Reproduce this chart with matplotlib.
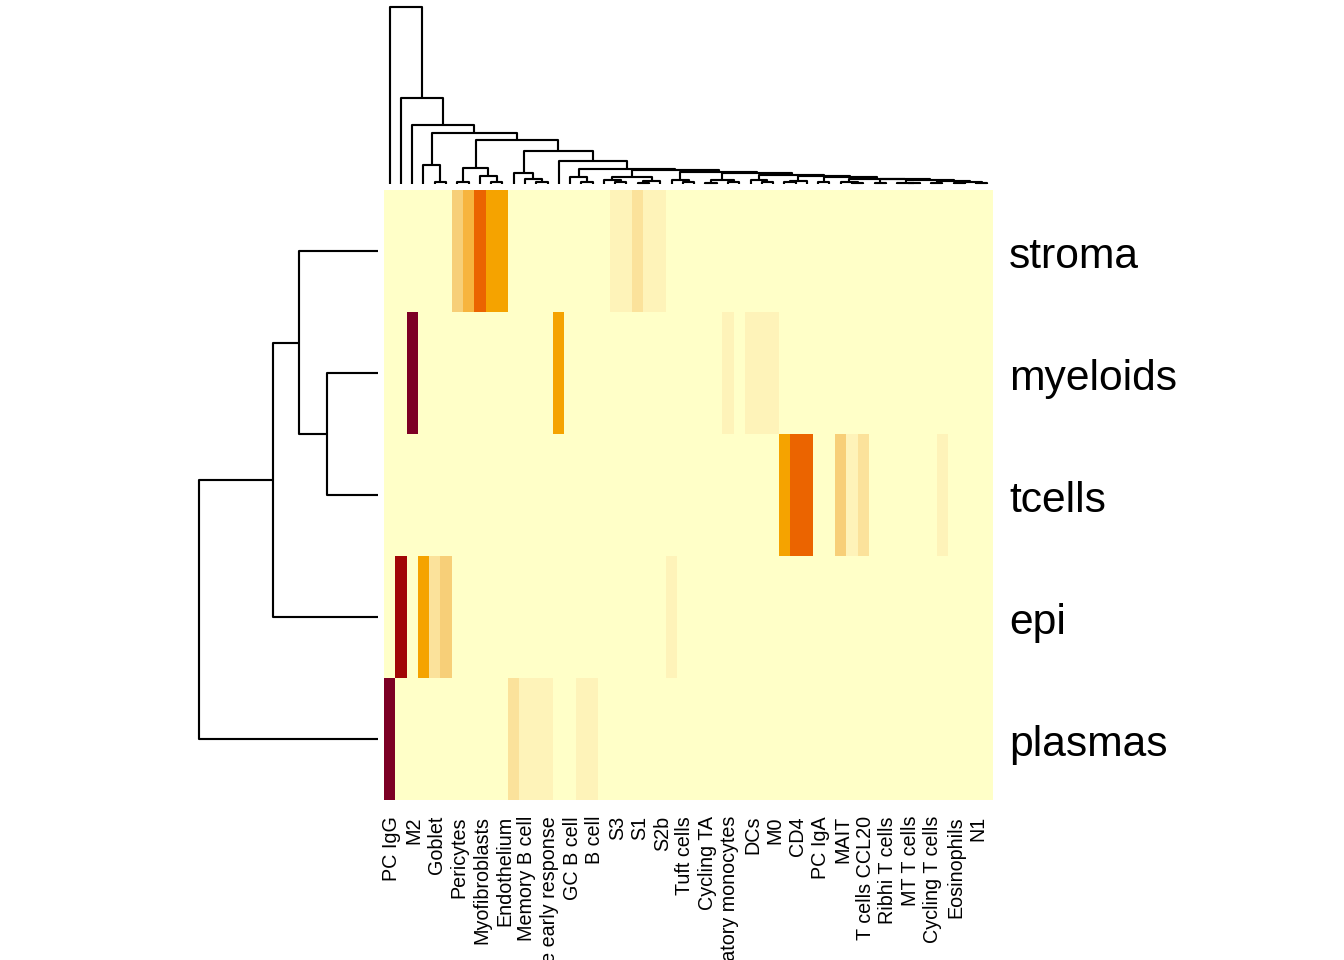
import matplotlib
matplotlib.use("Agg")
import matplotlib.pyplot as plt
import matplotlib.transforms as mtrans
from matplotlib.colors import ListedColormap, BoundaryNorm
import numpy as np

# ---------------- data ----------------
row_labels = ["stroma", "myeloids", "tcells", "epi", "plasmas"]

# 54 columns; only every other column label is printed (as in the reference)
col_labels_shown = [
    "PC IgG", "M2", "Goblet", "Pericytes", "Myofibroblasts", "Endothelium",
    "Memory B cell", "Macrophage early response", "GC B cell", "B cell",
    "S3", "S1", "S2b", "Tuft cells", "Cycling TA", "Inflammatory monocytes",
    "DCs", "M0", "CD4", "PC IgA", "MAIT", "T cells CCL20", "Ribhi T cells",
    "MT T cells", "Cycling T cells", "Eosinophils", "N1",
]

stroma = [0, 0, 0, 0, 0, 0, .29, .46, .71, .54,
          .54, 0, 0, 0, 0, 0, 0, 0, 0, 0,
          .12, .12, .20, .12, .12, 0, 0, 0, 0, 0,
          0, 0, 0, 0, 0, 0, 0, 0, 0, 0,
          0, 0, 0, 0, 0, 0, 0, 0, 0, 0,
          0, 0, 0, 0]
myeloids = [0, 0, .96, 0, 0, 0, 0, 0, 0, 0,
            0, 0, 0, 0, 0, .54, 0, 0, 0, 0,
            0, 0, 0, 0, 0, 0, 0, 0, 0, 0,
            .12, 0, .12, .12, .12, 0, 0, 0, 0, 0,
            0, 0, 0, 0, 0, 0, 0, 0, 0, 0,
            0, 0, 0, 0]
tcells = [0, 0, 0, 0, 0, 0, 0, 0, 0, 0,
          0, 0, 0, 0, 0, 0, 0, 0, 0, 0,
          0, 0, 0, 0, 0, 0, 0, 0, 0, 0,
          0, 0, 0, 0, 0, .54, .71, .71, 0, 0,
          .29, .12, .20, 0, 0, 0, 0, 0, 0, .12,
          0, 0, 0, 0]
epi = [0, .87, 0, .54, .20, .29, 0, 0, 0, 0,
       0, 0, 0, 0, 0, 0, 0, 0, 0, 0,
       0, 0, 0, 0, 0, .12, 0, 0, 0, 0,
       0, 0, 0, 0, 0, 0, 0, 0, 0, 0,
       0, 0, 0, 0, 0, 0, 0, 0, 0, 0,
       0, 0, 0, 0]
plasmas = [.96, 0, 0, 0, 0, 0, 0, 0, 0, 0,
           0, .20, .12, .12, .12, 0, 0, .12, .12, 0,
           0, 0, 0, 0, 0, 0, 0, 0, 0, 0,
           0, 0, 0, 0, 0, 0, 0, 0, 0, 0,
           0, 0, 0, 0, 0, 0, 0, 0, 0, 0,
           0, 0, 0, 0]

# row dendrogram: (left, right, height); leaves are row indices
row_tree = (((0, (1, 2, 0.285), 0.441), 3, 0.587), 4, 1.0)

# column dendrogram (leaves are column indices)
col_tree = (0, (1, (2, (
    (3, (4, 5, 0.013), 0.107),
    (((6, 7, 0.010), (8, (9, 10, 0.013), 0.047), 0.089),
     ((11, (12, (13, 14, 0.010), 0.028), 0.064),
      (15,
       ((16, (17, 18, 0.011), 0.040),
        (((19, (20, 21, 0.011), 0.023), ((22, 23, 0.008), 24, 0.017), 0.038),
         ((25, (26, 27, 0.010), 0.023),
          (((28, 29, 0.008), (30, 31, 0.010), 0.023),
           ((32, (33, 34, 0.010), 0.020),
            (((35, 36, 0.010), 37, 0.017),
             ((38, 39, 0.011),
              ((40, (41, 42, 0.008), 0.011),
               ((43, 44, 0.008),
                ((45, (46, 47, 0.006), 0.008),
                 ((48, 49, 0.006),
                  ((50, 51, 0.005), (52, 53, 0.004), 0.011),
                  0.017), 0.020), 0.027), 0.031), 0.038), 0.045), 0.051),
           0.060), 0.068), 0.079), 0.085), 0.132), 0.186), 0.249), 0.290),
    0.333), 0.486), 1.0)

palette = ["#FFFFC8", "#FEF3B9", "#FBE29B", "#F7CF78", "#F6C15A", "#F7B43E",
           "#F5A300", "#F18A00", "#EB6400", "#D33A00", "#A10606", "#7D0025"]

# ---------------- figure ----------------
W, H = 1344, 960
fig = plt.figure(figsize=(7, 5), dpi=192)
fig.patch.set_facecolor("white")
plt.rcParams["font.family"] = ["Liberation Sans", "DejaVu Sans"]


def px_axes(x0, y0, x1, y1):
    a = fig.add_axes([x0 / W, 1 - y1 / H, (x1 - x0) / W, (y1 - y0) / H])
    a.axis("off")
    return a


cmap = ListedColormap(palette)
norm = BoundaryNorm(np.linspace(0, 1, len(palette) + 1), cmap.N)
data = np.array([stroma, myeloids, tcells, epi, plasmas])
ncol = data.shape[1]
nrow = data.shape[0]

ax = px_axes(384, 190, 993, 800)
ax.pcolormesh(np.arange(ncol + 1), np.arange(nrow + 1), data, cmap=cmap,
              norm=norm, edgecolors="none", antialiased=False)
ax.set_xlim(0, ncol)
ax.set_ylim(nrow, 0)

# column labels (shifted 2 px right)
tr_col = mtrans.blended_transform_factory(ax.transData, fig.transFigure) + \
    mtrans.ScaledTranslation(2 / 192, 0, fig.dpi_scale_trans)
for k, lab in enumerate(col_labels_shown):
    ax.text(2 * k + 0.5, 1 - 816 / H, lab, rotation=90, ha="center", va="top",
            fontsize=7.4, transform=tr_col, clip_on=False)

# row labels (shifted 6 px down)
tr_row = mtrans.blended_transform_factory(fig.transFigure, ax.transData) + \
    mtrans.ScaledTranslation(0, -6 / 192, fig.dpi_scale_trans)
for i, lab in enumerate(row_labels):
    ax.text(1009 / W, i + 0.5, lab, ha="left", va="center", fontsize=16,
            transform=tr_row, clip_on=False)

LW = 0.8


def draw_tree(a, node, horizontal):
    """horizontal=True: leaves along x (top dendrogram)."""
    if not isinstance(node, tuple):
        return node + 0.5, 0.0
    left, right, h = node
    xl, hl = draw_tree(a, left, horizontal)
    xr, hr = draw_tree(a, right, horizontal)
    if horizontal:
        a.plot([xl, xl, xr, xr], [hl, h, h, hr], color="black", lw=LW,
               solid_capstyle="butt", clip_on=False)
    else:
        a.plot([hl, h, h, hr], [xl, xl, xr, xr], color="black", lw=LW,
               solid_capstyle="butt", clip_on=False)
    return (xl + xr) / 2, h


# row dendrogram
axr = px_axes(199, 190, 378, 800)
axr.set_xlim(row_tree[2], 0)
axr.set_ylim(nrow, 0)
draw_tree(axr, row_tree, horizontal=False)

# column dendrogram
axc = px_axes(384, 7, 993, 184)
axc.set_xlim(0, ncol)
axc.set_ylim(0, col_tree[2])
draw_tree(axc, col_tree, horizontal=True)

fig.savefig("out.png", dpi=192)
